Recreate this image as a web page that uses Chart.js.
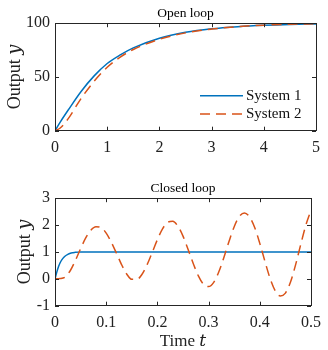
<!DOCTYPE html>
<html><head><meta charset="utf-8">
<script src="https://cdn.jsdelivr.net/npm/chart.js@4.4.0/dist/chart.umd.min.js"></script>
<style>
html,body{margin:0;padding:0;background:#fff;}
.box{position:absolute;left:0;width:328px;height:175px;}
</style></head><body>
<div class="box" style="top:0"><canvas id="c1" width="328" height="175"></canvas></div>
<div class="box" style="top:175px"><canvas id="c2" width="328" height="175"></canvas></div>
<script>
// Open loop data
const openT  = [0,0.1,0.25,0.5,0.75,1,1.25,1.5,2,2.5,3,3.5,4,4.5,5];
const openS1 = [0,8,19,36.5,51,62.5,70.5,77,86,91.5,94.8,96.8,98.1,98.9,99.3];
const openS2 = [0,2.5,11,30,46,59,68.5,75.5,85,91,94.5,96.8,98.2,99,99.5];
const openXTicks = [0,1,2,3,4,5];
const openYTicks = [0,50,100];

// Closed loop data
const closedT1 = [0,0.005,0.01,0.015,0.02,0.025,0.03,0.035,0.04,0.05,0.06,0.5];
const closedS1 = [0,0.35,0.6,0.75,0.85,0.91,0.95,0.97,0.985,0.995,1,1];
const closedT2 = [0,0.01,0.02,0.03,0.04,0.05,0.06,0.07,0.08,0.09,0.10,0.11,0.12,0.13,0.14,0.15,0.16,0.17,0.18,0.19,0.20,0.21,0.22,0.23,0.24,0.25,0.26,0.27,0.28,0.29,0.30,0.31,0.32,0.33,0.34,0.35,0.36,0.37,0.38,0.39,0.40,0.41,0.42,0.43,0.44,0.45,0.46,0.47,0.48,0.49,0.50];
const closedS2 = [0,0.01,0.07,0.31,0.69,1.12,1.52,1.81,1.94,1.91,1.70,1.36,0.95,0.53,0.18,-0.02,-0.02,0.17,0.53,0.99,1.46,1.86,2.10,2.14,1.96,1.59,1.09,0.57,0.11,-0.20,-0.29,-0.13,0.26,0.80,1.40,1.94,2.32,2.45,2.30,1.91,1.32,0.65,0.02,-0.44,-0.64,-0.53,-0.12,0.53,1.28,2.00,2.55];
const closedXTicks = [0,0.1,0.2,0.3,0.4,0.5];
const closedYTicks = [-1,0,1,2,3];

const seriesNames = ['System 1','System 2'];
const BLUE = '#0072BD', ORANGE = '#D95319';
const FONT = "'Liberation Serif', 'DejaVu Serif', serif";
const DASH = [10,6];

function pts(xs, ys){ return xs.map((x,i)=>({x:x,y:ys[i]})); }

const framePlugin = {
  id:'frame',
  afterDatasetsDraw(chart, args, opts){
    const ctx = chart.ctx, a = chart.chartArea;
    const xs = chart.scales.x, ys = chart.scales.y;
    ctx.save();
    ctx.strokeStyle = '#262626';
    ctx.lineWidth = 1;
    ctx.strokeRect(Math.round(a.left)+0.5, Math.round(a.top)+0.5, Math.round(a.right-a.left), Math.round(a.bottom-a.top));
    const L = 4;
    ctx.beginPath();
    opts.xt.forEach(v=>{
      const px = Math.round(xs.getPixelForValue(v))+0.5;
      ctx.moveTo(px,a.bottom); ctx.lineTo(px,a.bottom-L);
      ctx.moveTo(px,a.top); ctx.lineTo(px,a.top+L);
    });
    opts.yt.forEach(v=>{
      const py = Math.round(ys.getPixelForValue(v))+0.5;
      ctx.moveTo(a.left,py); ctx.lineTo(a.left+L,py);
      ctx.moveTo(a.right,py); ctx.lineTo(a.right-L,py);
    });
    ctx.stroke();
    if (opts.legend){
      const x0 = 200, x1 = 243, yA = 95.7, yB = 114;
      ctx.lineWidth = 1.5;
      ctx.strokeStyle = BLUE; ctx.setLineDash([]);
      ctx.beginPath(); ctx.moveTo(x0,yA); ctx.lineTo(x1,yA); ctx.stroke();
      ctx.strokeStyle = ORANGE; ctx.setLineDash(DASH);
      ctx.beginPath(); ctx.moveTo(x0,yB); ctx.lineTo(x1,yB); ctx.stroke();
      ctx.setLineDash([]);
      ctx.fillStyle = '#111';
      ctx.font = '15px ' + FONT;
      ctx.textBaseline = 'middle';
      ctx.fillText(seriesNames[0], 246, yA);
      ctx.fillText(seriesNames[1], 246, yB);
    }
    ctx.restore();
  }
};

function make(id, title, d1, d2, xmin, xmax, xt, ymin, ymax, yt, xTitle, legend, yTitlePad){
  new Chart(document.getElementById(id), {
    type:'line',
    data:{ datasets:[
      {label:seriesNames[0], data:d1, borderColor:BLUE, borderWidth:1.5, pointRadius:0, cubicInterpolationMode:'monotone', order:2},
      {label:seriesNames[1], data:d2, borderColor:ORANGE, borderWidth:1.5, borderDash:DASH, pointRadius:0, cubicInterpolationMode:'monotone', order:1}
    ]},
    options:{
      responsive:false, animation:false, events:[],
      layout:{padding:{left:0,right:12,top:0,bottom:0}},
      plugins:{
        legend:{display:false}, tooltip:{enabled:false},
        title:{display:true, text:title, fullSize:false, color:'#000',
          font:{family:FONT, size:13.5, weight:'normal', lineHeight:1.2}, padding:{top:5,bottom:2}},
        frame:{xt:xt, yt:yt, legend:legend}
      },
      scales:{
        x:{type:'linear', min:xmin, max:xmax,
          afterBuildTicks(s){ s.ticks = xt.map(v=>({value:v})); },
          afterFit(s){ s.height = 44.3; },
          grid:{display:false, drawTicks:false}, border:{display:false},
          ticks:{padding:7, color:'#222', font:{family:FONT,size:16}, maxRotation:0, autoSkip:false,
            callback:(v)=>String(v)},
          title:{display:!!xTitle, text:xTitle, color:'#222', font:{family:FONT,size:17,lineHeight:1}, padding:{top:0,bottom:0}}
        },
        y:{type:'linear', min:ymin, max:ymax,
          afterBuildTicks(s){ s.ticks = yt.map(v=>({value:v})); },
          afterFit(s){ s.width = 55; },
          grid:{display:false, drawTicks:false}, border:{display:false},
          ticks:{padding:5, color:'#222', font:{family:FONT,size:16}, autoSkip:false, callback:(v)=>String(v)},
          title:{display:true, text:'Output 𝑦', color:'#222', font:{family:FONT,size:18,lineHeight:1.2}, padding:{top:yTitlePad,bottom:0}}
        }
      }
    },
    plugins:[framePlugin]
  });
}

make('c1','Open loop', pts(openT,openS1), pts(openT,openS2), 0,5,openXTicks, 0,100,openYTicks, '', true, 4);
make('c2','Closed loop', pts(closedT1,closedS1), pts(closedT2,closedS2), 0,0.5,closedXTicks, -1,3,closedYTicks, 'Time 𝑡', false, 14);
</script>
</body></html>
